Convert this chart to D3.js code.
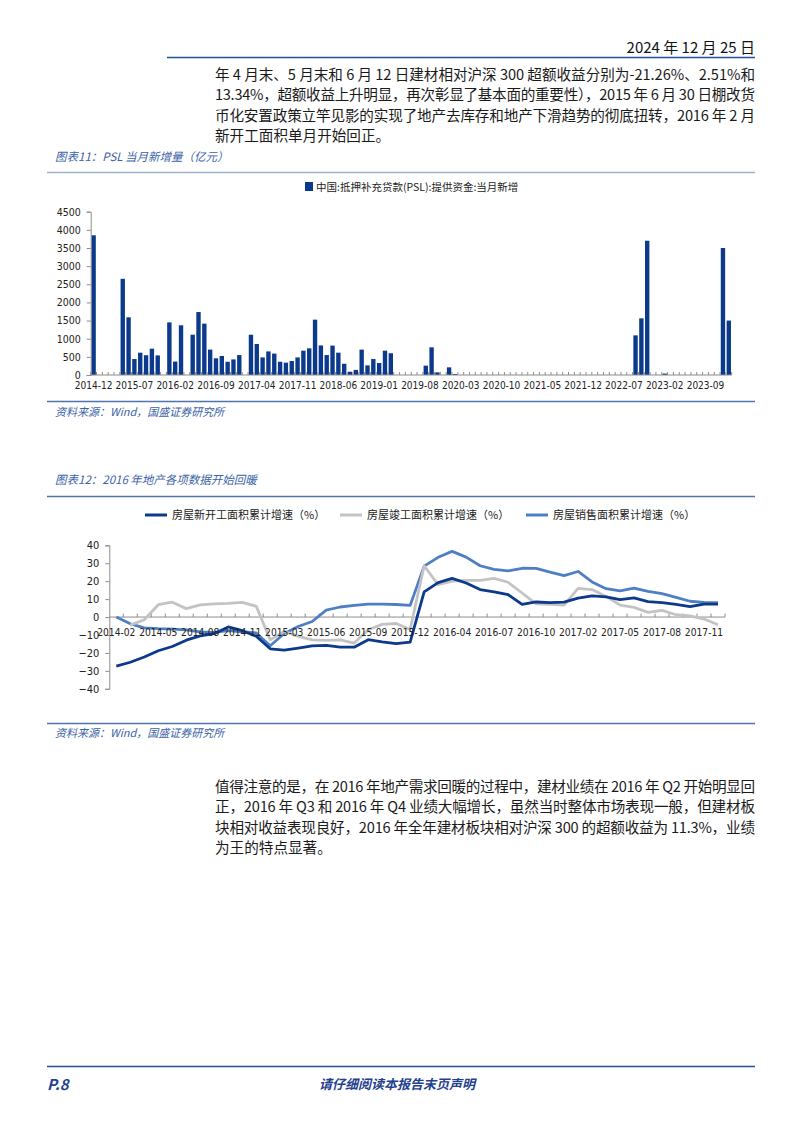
<!DOCTYPE html>
<html><head><meta charset="utf-8">
<script src="https://cdn.jsdelivr.net/npm/d3@7/dist/d3.min.js"></script>
<style>
html,body{margin:0;padding:0;background:#fff;}
svg{display:block;}
.cjk{font-family:"Noto Sans CJK SC","Noto Sans",sans-serif;}
.num{font-family:"DejaVu Sans Condensed","DejaVu Sans",sans-serif;font-stretch:condensed;}
</style></head>
<body>
<svg id="page" width="802" height="1133"></svg>
<script>
// ---------------- DATA ----------------
const headerDate = "2024 年 12 月 25 日";
const para1 = [
  "年 4 月末、5 月末和 6 月 12 日建材相对沪深 300 超额收益分别为-21.26%、2.51%和",
  "13.34%，超额收益上升明显，再次彰显了基本面的重要性），2015 年 6 月 30 日棚改货",
  "币化安置政策立竿见影的实现了地产去库存和地产下滑趋势的彻底扭转，2016 年 2 月",
  "新开工面积单月开始回正。"
];
const para2 = [
  "值得注意的是，在 2016 年地产需求回暖的过程中，建材业绩在 2016 年 Q2 开始明显回",
  "正，2016 年 Q3 和 2016 年 Q4 业绩大幅增长，虽然当时整体市场表现一般，但建材板",
  "块相对收益表现良好，2016 年全年建材板块相对沪深 300 的超额收益为 11.3%，业绩",
  "为王的特点显著。"
];
const title1 = "图表11：PSL 当月新增量（亿元）";
const title2 = "图表12：2016 年地产各项数据开始回暖";
const sourceText = "资料来源：Wind，国盛证券研究所";
const legend1 = "中国:抵押补充贷款(PSL):提供资金:当月新增";

// Chart 1: PSL monthly new (亿元), 2014-12 .. 2024-01
const pslMonths = d3.timeMonths(new Date(2014, 11, 1), new Date(2024, 1, 1)).map(d3.timeFormat("%Y-%m"));
const pslValues = [
  3850, 0, 0, 0, 0, 2650, 1590, 440, 615, 545, 725, 540,
  0, 1450, 370, 1370, 0, 1110, 1735, 1415, 700, 460, 525, 365,
  430, 550, 0, 1110, 855, 485, 650, 590, 365, 340, 385, 485,
  670, 735, 1525, 815, 550, 810, 615, 310, 90, 140, 700, 265,
  440, 330, 670, 600, 0, 0, 0, 0, 0, 257, 762, 73,
  0, 211, 28, 0, 0, 0, 0, 0, 0, 0, 0, 0,
  0, 0, 0, 0, 0, 0, 0, 0, 0, 0, 0, 0,
  0, 0, 0, 0, 0, 0, 0, 0, 0, 1092, 1561, 3700,
  0, 0, 40, 0, 0, 0, 0, 0, 0, 0, 0, 0,
  3500, 1500
];
const pslTickLabels = ["2014-12","2015-07","2016-02","2016-09","2017-04","2017-11","2018-06","2019-01",
  "2019-08","2020-03","2020-10","2021-05","2021-12","2022-07","2023-02","2023-09"];
const pslYTicks = [0,500,1000,1500,2000,2500,3000,3500,4000,4500];

// Chart 2: cumulative YoY growth (%), 2014-02 .. 2017-12 (no January)
const reMonths = ["2014-02","2014-03","2014-04","2014-05","2014-06","2014-07","2014-08","2014-09","2014-10","2014-11","2014-12",
  "2015-02","2015-03","2015-04","2015-05","2015-06","2015-07","2015-08","2015-09","2015-10","2015-11","2015-12",
  "2016-02","2016-03","2016-04","2016-05","2016-06","2016-07","2016-08","2016-09","2016-10","2016-11","2016-12",
  "2017-02","2017-03","2017-04","2017-05","2017-06","2017-07","2017-08","2017-09","2017-10","2017-11","2017-12"];
const newStarts = [-27.4,-25.2,-22.3,-18.8,-16.4,-12.9,-10.5,-9.3,-5.5,-7.6,-10.7,
  -17.7,-18.4,-17.3,-16.1,-15.8,-16.8,-16.8,-12.6,-13.9,-14.8,-14.0,
  14.0,19.2,21.6,19.0,15.3,14.0,12.5,7.1,8.4,8.0,8.3,
  10.6,11.8,11.3,9.7,10.7,8.6,8.0,7.1,5.8,7.2,7.2];
const completions = [null,-4.5,-1.5,6.9,8.3,4.7,6.8,7.3,7.6,8.2,6.0,
  -12.7,-8.0,-10.8,-12.7,-13.0,-12.7,-14.5,-7.1,-4.1,-3.6,-6.9,
  28.6,18.0,20.0,20.5,20.5,21.6,19.4,13.4,7.4,7.1,6.7,
  16.0,15.3,11.5,6.7,5.4,2.6,3.7,1.3,0.7,-1.1,-4.3];
const sales = [0.0,-3.8,-6.0,-6.5,-6.7,-7.1,-8.3,-8.5,-7.6,-8.2,-8.9,
  -16.0,-9.2,-5.3,-2.5,3.9,5.6,6.5,7.2,7.2,7.0,6.5,
  28.4,33.3,36.6,33.4,28.6,26.6,25.7,27.2,27.1,25.0,23.1,
  25.4,19.6,15.8,14.6,16.1,14.3,13.0,11.0,8.8,8.2,8.0];
const reTickLabels = ["2014-02","2014-05","2014-08","2014-11","2015-03","2015-06","2015-09","2015-12",
  "2016-04","2016-07","2016-10","2017-02","2017-05","2017-08","2017-11"];
const reYTicks = [-40,-30,-20,-10,0,10,20,30,40];
const reSeriesNames = ["房屋新开工面积累计增速（%）","房屋竣工面积累计增速（%）","房屋销售面积累计增速（%）"];
const reColors = ["#0b3a8c","#c3c3c3","#4e7fc6"];

// ---------------- PAGE ----------------
const svg = d3.select("#page");
const blue = "#1f4e9a";
const titleBlue = "#3b63a8";
const axisGray = "#8c8c8c";
const textCol = "#1a1a1a";

// header
svg.append("text").attr("class","cjk").attr("x",755).attr("y",53).attr("text-anchor","end")
  .attr("font-size",15).attr("fill","#111").text(headerDate);
svg.append("line").attr("x1",167).attr("x2",755).attr("y1",57.5).attr("y2",57.5)
  .attr("stroke",blue).attr("stroke-width",1.6);

function paragraph(lines, y0) {
  lines.forEach((t,i)=>{
    const tx = svg.append("text").attr("class","cjk").attr("x",215).attr("y",y0+i*20.3)
      .attr("font-size",14.6).attr("fill",textCol).text(t);
    if (i < lines.length-1) tx.attr("textLength",540).attr("lengthAdjust","spacing");
  });
}
paragraph(para1, 80);
paragraph(para2, 792);

function rule(y, col, w) {
  svg.append("line").attr("x1",47).attr("x2",755).attr("y1",y).attr("y2",y)
    .attr("stroke",col).attr("stroke-width",w);
}
function italicText(x,y,t,size,col,weight) {
  return svg.append("text").attr("class","cjk").attr("x",x).attr("y",y).attr("font-size",size)
    .attr("font-style","italic").attr("font-weight",weight||"normal").attr("fill",col).text(t);
}

// ---------------- CHART 1 ----------------
italicText(55,161,title1,11.5,titleBlue);
rule(172.5,"#9fb1cc",1.6);
rule(401.5,"#4f73ad",1.4);
italicText(55,416,sourceText,11,titleBlue);

// legend
svg.append("rect").attr("x",305).attr("y",182).attr("width",8).attr("height",9).attr("fill","#0b3a8c");
svg.append("text").attr("class","cjk").attr("x",316).attr("y",191).attr("font-size",10.5)
  .attr("fill","#222").text(legend1);

const x1 = d3.scaleBand().domain(pslMonths).range([90.7,731.7]).paddingInner(0.25).paddingOuter(0.125);
const y1 = d3.scaleLinear().domain([0,4500]).range([375,211.7]);
const g1 = svg.append("g");
g1.selectAll("rect.bar").data(pslMonths.map((m,i)=>({m,v:pslValues[i]})).filter(d=>d.v>0))
  .join("rect").attr("class","bar")
  .attr("x",d=>x1(d.m)).attr("width",x1.bandwidth())
  .attr("y",d=>y1(d.v)).attr("height",d=>y1(0)-y1(d.v))
  .attr("fill","#0b3a8c");

// y axis
const yAx1 = g1.append("g").attr("transform","translate(90.7,0)")
  .call(d3.axisLeft(y1).tickValues(pslYTicks).tickSize(4).tickPadding(6).tickFormat(d3.format("d")));
yAx1.select(".domain").attr("stroke",axisGray);
yAx1.selectAll(".tick line").attr("stroke",axisGray);
yAx1.selectAll("text").attr("class","num").attr("font-size",10.5).attr("fill","#222");

// x axis (ticks between categories, pointing up)
const step1 = x1.step();
g1.append("line").attr("x1",90.7).attr("x2",731.7).attr("y1",y1(0)).attr("y2",y1(0)).attr("stroke",axisGray);
g1.selectAll("line.xt").data(pslMonths).join("line").attr("class","xt")
  .attr("x1",d=>x1(d)-step1*0.125).attr("x2",d=>x1(d)-step1*0.125)
  .attr("y1",y1(0)).attr("y2",y1(0)-3).attr("stroke",axisGray);
g1.append("line").attr("x1",731.7).attr("x2",731.7).attr("y1",y1(0)).attr("y2",y1(0)-3).attr("stroke",axisGray);
g1.selectAll("text.xl").data(pslTickLabels).join("text").attr("class","xl num")
  .attr("x",d=>x1(d)+x1.bandwidth()/2).attr("y",389).attr("text-anchor","middle")
  .attr("font-size",10).attr("fill","#222").text(d=>d);

// ---------------- CHART 2 ----------------
italicText(55,484,title2,11.5,titleBlue);
rule(496.5,"#4f73ad",1.6);
rule(723.5,"#4f73ad",1.4);
italicText(55,737,sourceText,11,titleBlue);

// legend
const legX = [145,340,526];
reSeriesNames.forEach((n,i)=>{
  svg.append("line").attr("x1",legX[i]).attr("x2",legX[i]+22).attr("y1",515).attr("y2",515)
    .attr("stroke",reColors[i]).attr("stroke-width",3);
  svg.append("text").attr("class","cjk").attr("x",legX[i]+27).attr("y",519).attr("font-size",11)
    .attr("fill","#222").text(n);
});

const x2 = d3.scalePoint().domain(reMonths).range([109.3,725]).padding(0.5);
const y2 = d3.scaleLinear().domain([-40,40]).range([688.8,545.3]);
const g2 = svg.append("g");
const yAx2 = g2.append("g").attr("transform","translate(109.3,0)")
  .call(d3.axisLeft(y2).tickValues(reYTicks).tickSize(4).tickPadding(6).tickFormat(d3.format("d")));
yAx2.select(".domain").attr("stroke",axisGray);
yAx2.selectAll(".tick line").attr("stroke",axisGray);
yAx2.selectAll("text").attr("class","num").attr("font-size",11).attr("fill","#222");

const step2 = x2.step();
g2.append("line").attr("x1",109.3).attr("x2",725).attr("y1",y2(0)).attr("y2",y2(0)).attr("stroke",axisGray);
g2.selectAll("line.xt").data(reMonths).join("line").attr("class","xt")
  .attr("x1",d=>x2(d)+step2/2).attr("x2",d=>x2(d)+step2/2)
  .attr("y1",y2(0)).attr("y2",y2(0)-3.5).attr("stroke",axisGray);

const series = [newStarts, completions, sales];
const drawOrder = [2,1,0];
drawOrder.forEach(si=>{
  const line = d3.line().defined(d=>d.v!==null).x(d=>x2(d.m)).y(d=>y2(d.v));
  g2.append("path").datum(reMonths.map((m,i)=>({m,v:series[si][i]})))
    .attr("d",line).attr("fill","none").attr("stroke",reColors[si]).attr("stroke-width",2.8)
    .attr("stroke-linejoin","round");
});

g2.selectAll("text.xl").data(reTickLabels).join("text").attr("class","xl num")
  .attr("x",d=>x2(d)).attr("y",635.5).attr("text-anchor","middle")
  .attr("font-size",10.2).attr("fill","#222").text(d=>d);

// ---------------- FOOTER ----------------
rule(1066.5,blue,1.6);
italicText(47,1090,"P.8",15,"#1f3f8f","bold").attr("font-family","Liberation Sans, Arial, sans-serif");
italicText(397,1089,"请仔细阅读本报告末页声明",13,"#1f3f8f","bold").attr("text-anchor","middle");
</script>
</body></html>
